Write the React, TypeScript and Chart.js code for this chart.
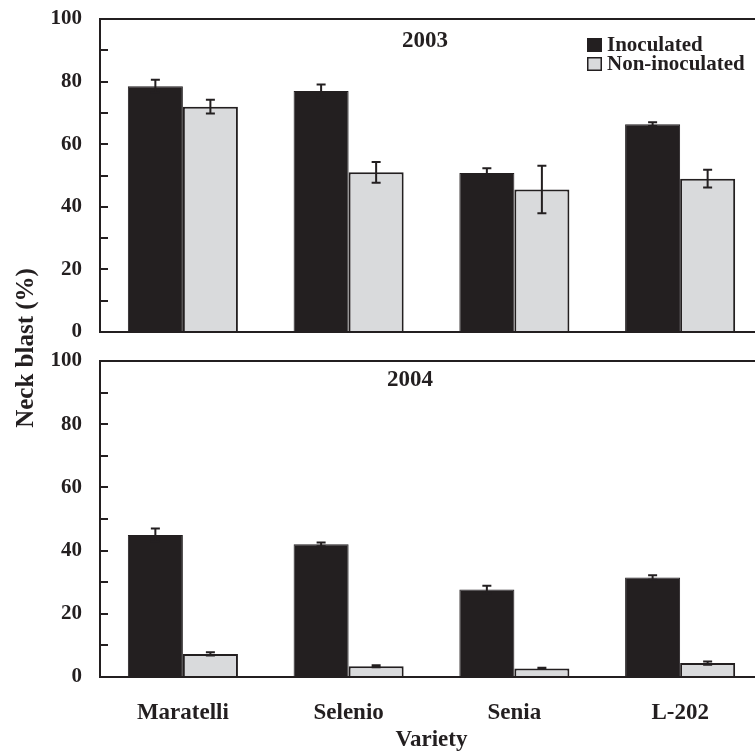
import React, { useEffect, useRef } from "react";
import { Chart, registerables } from "chart.js";

Chart.register(...registerables);

// ---- data ----
const varieties = ["Maratelli", "Selenio", "Senia", "L-202"];
const seriesNames = ["Inoculated", "Non-inoculated"];
const panelYears = ["2003", "2004"];
const yTickValues = [0, 20, 40, 60, 80, 100];
const yMinorTickValues = [10, 20, 30, 40, 50, 60, 70, 80, 90];

const inoculated2003 = [78.5, 77, 50.8, 66.4];
const inoculated2003Err = [2.1, 2.1, 1.5, 0.6];
const nonInoculated2003 = [72, 51, 45.5, 49];
const nonInoculated2003Err = [2.2, 3.3, 7.6, 2.8];

const inoculated2004 = [44.9, 42, 27.7, 31.5];
const inoculated2004Err = [2.1, 0.6, 1.2, 0.7];
const nonInoculated2004 = [7.3, 3.4, 2.7, 4.4];
const nonInoculated2004Err = [0.5, 0.3, 0.2, 0.5];

// ---- styles ----
const DARK = "#231f20";
const GREY = "#d9dadc";
const FAMILY = "'Liberation Serif', 'Times New Roman', serif";

const decorPlugin = {
  id: "decor",
  afterDatasetsDraw(chart: any) {
    const ctx = chart.ctx;
    ctx.save();
    ctx.strokeStyle = DARK;
    ctx.lineWidth = 2;
    chart.data.datasets.forEach((ds: any, i: number) => {
      const meta = chart.getDatasetMeta(i);
      const scale = chart.scales[meta.yAxisID];
      const errs: number[] = ds.errors || [];
      meta.data.forEach((el: any, j: number) => {
        const v = ds.data[j];
        const e = errs[j];
        if (e == null) return;
        const x = el.x;
        const yt = scale.getPixelForValue(v + e);
        const yb = scale.getPixelForValue(v - e);
        ctx.beginPath();
        ctx.moveTo(x, yt);
        ctx.lineTo(x, yb);
        ctx.moveTo(x - 4.5, yt);
        ctx.lineTo(x + 4.5, yt);
        ctx.moveTo(x - 4.5, yb);
        ctx.lineTo(x + 4.5, yb);
        ctx.stroke();
      });
    });
    ctx.restore();
  },
  afterDraw(chart: any) {
    const ctx = chart.ctx;
    const area = chart.chartArea;
    const panels = [chart.scales.y2003, chart.scales.y2004];
    ctx.save();
    // inside tick marks
    ctx.strokeStyle = DARK;
    ctx.lineWidth = 2;
    panels.forEach((s: any) => {
      yMinorTickValues.forEach((v) => {
        const y = Math.round(s.getPixelForValue(v));
        ctx.beginPath();
        ctx.moveTo(area.left, y);
        ctx.lineTo(area.left + 8, y);
        ctx.stroke();
      });
    });
    // panel titles
    ctx.fillStyle = DARK;
    ctx.font = `bold 23px ${FAMILY}`;
    ctx.textAlign = "center";
    ctx.textBaseline = "middle";
    ctx.fillText(panelYears[0], area.left + 325, panels[0].getPixelForValue(93));
    ctx.fillText(panelYears[1], area.left + 310, panels[1].getPixelForValue(94));
    // legend
    const lx = 587;
    const rows = [
      { y: 38, fill: DARK },
      { y: 57, fill: GREY },
    ];
    ctx.font = `bold 21px ${FAMILY}`;
    ctx.textAlign = "left";
    rows.forEach((r, i) => {
      ctx.fillStyle = r.fill;
      ctx.fillRect(lx, r.y, 15, 14);
      ctx.strokeStyle = DARK;
      ctx.lineWidth = 1.5;
      ctx.strokeRect(lx + 0.75, r.y + 0.75, 13.5, 12.5);
      ctx.fillStyle = DARK;
      ctx.fillText(seriesNames[i], lx + 20, r.y + 7.5);
    });
    // y axis title
    ctx.translate(26.5, (area.top + area.bottom) / 2);
    ctx.rotate(-Math.PI / 2);
    ctx.font = `bold 25px ${FAMILY}`;
    ctx.textAlign = "center";
    ctx.textBaseline = "middle";
    ctx.fillText("Neck blast (%)", 0, 0);
    ctx.restore();
  },
};

function panelAxis(weight: number, stackWeight: number) {
  return {
    type: "linear",
    position: "left",
    stack: "panels",
    stackWeight,
    weight,
    min: 0,
    max: 100,
    z: 1,
    afterBuildTicks: (s: any) => {
      s.ticks = yTickValues.map((v) => ({ value: v }));
    },
    afterFit: (s: any) => {
      s.width = 100;
      s.paddingTop = 0;
      s.paddingBottom = 0;
    },
    ticks: {
      font: { family: FAMILY, size: 21, weight: "bold" },
      color: DARK,
      padding: 18,
    },
    grid: {
      drawTicks: false,
      lineWidth: 2,
      color: (c: any) =>
        c.tick && (c.tick.value === 0 || c.tick.value === 100) ? DARK : "rgba(0,0,0,0)",
    },
    border: { display: true, color: DARK, width: 2 },
  };
}

export default function App() {
  const ref = useRef<HTMLCanvasElement | null>(null);
  useEffect(() => {
    if (!ref.current) return;
    const chart = new Chart(ref.current, {
      type: "bar",
      data: {
        labels: varieties,
        datasets: [
          {
            label: seriesNames[0],
            data: inoculated2003,
            errors: inoculated2003Err,
            yAxisID: "y2003",
            stack: "inoc",
            backgroundColor: DARK,
            borderColor: DARK,
            borderWidth: 1,
          },
          {
            label: seriesNames[1],
            data: nonInoculated2003,
            errors: nonInoculated2003Err,
            yAxisID: "y2003",
            stack: "non",
            backgroundColor: GREY,
            borderColor: DARK,
            borderWidth: 2,
          },
          {
            label: seriesNames[0],
            data: inoculated2004,
            errors: inoculated2004Err,
            yAxisID: "y2004",
            stack: "inoc",
            backgroundColor: DARK,
            borderColor: DARK,
            borderWidth: 1,
          },
          {
            label: seriesNames[1],
            data: nonInoculated2004,
            errors: nonInoculated2004Err,
            yAxisID: "y2004",
            stack: "non",
            backgroundColor: GREY,
            borderColor: DARK,
            borderWidth: 2,
          },
        ] as any,
      },
      options: {
        animation: false,
        responsive: false,
        maintainAspectRatio: false,
        devicePixelRatio: 1,
        layout: { padding: { top: 19, right: 17, bottom: 0, left: 0 } },
        datasets: {
          bar: { categoryPercentage: 0.664, barPercentage: 1 },
        },
        plugins: {
          legend: { display: false },
          tooltip: { enabled: false },
        },
        scales: {
          x: {
            type: "category",
            offset: true,
            grid: { display: false, drawTicks: false },
            border: { display: false },
            afterFit: (s: any) => {
              s.height = 75;
            },
            ticks: {
              font: { family: FAMILY, size: 23, weight: "bold" },
              color: DARK,
              padding: 22,
              maxRotation: 0,
              autoSkip: false,
            },
            title: {
              display: true,
              text: "Variety",
              color: DARK,
              font: { family: FAMILY, size: 23, weight: "bold", lineHeight: 1 },
              padding: { top: 0, bottom: 0.5 },
            },
          },
          y2003: panelAxis(3, 313),
          gap: {
            type: "linear",
            position: "left",
            stack: "panels",
            stackWeight: 29,
            weight: 2,
            min: 0,
            max: 1,
            ticks: { display: false },
            grid: { display: false, drawTicks: false },
            border: { display: false },
            afterFit: (s: any) => {
              s.width = 100;
              s.paddingTop = 0;
              s.paddingBottom = 0;
            },
          },
          y2004: panelAxis(1, 316),
        } as any,
      },
      plugins: [decorPlugin],
    } as any);
    return () => chart.destroy();
  }, []);
  return (
    <div
      style={{
        position: "fixed",
        left: 0,
        top: 0,
        width: 755,
        height: 752,
        overflow: "hidden",
        background: "#fff",
      }}
    >
      <canvas
        ref={ref}
        width={780}
        height={752}
        style={{ display: "block", width: 780, height: 752 }}
      />
    </div>
  );
}
